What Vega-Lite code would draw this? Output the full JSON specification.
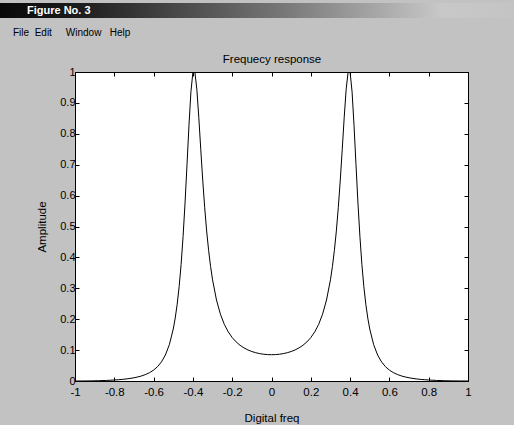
{
  "$schema": "https://vega.github.io/schema/vega-lite/v6.json",
  "background": "#c2c2c2",
  "padding": {"left": 0, "top": 3, "right": 0, "bottom": 0},
  "title": {"text": "Figure No. 3", "anchor": "start", "frame": "bounds", "offset": -13, "dx": 27, "color": "#ffffff", "fontSize": 11, "fontWeight": "bold"},
  "columns": 1,
  "spacing": 15,
  "config": {"font": "Liberation Sans", "view": {"stroke": null}},
  "concat": [
    {
      "width": 514,
      "height": 15,
      "view": {
        "fill": {"gradient": "linear", "x1": 0, "y1": 0, "x2": 1, "y2": 0,
          "stops": [{"offset": 0, "color": "#080808"}, {"offset": 0.15, "color": "#1c1c1c"}, {"offset": 0.55, "color": "#777777"}, {"offset": 0.86, "color": "#c8c8c8"}, {"offset": 1, "color": "#c4c4c4"}]},
        "stroke": null
      },
      "title": {"text": "File\u00a0\u00a0Edit\u00a0\u00a0\u00a0\u00a0\u00a0Window\u00a0\u00a0\u00a0Help", "orient": "bottom", "anchor": "start", "frame": "group", "dx": 13, "offset": 10, "fontSize": 10, "fontWeight": "normal", "color": "black"},
      "data": {"values": []},
      "mark": "text"
    },
    {
      "spacing": 10,
      "hconcat": [
        {
          "width": 26,
          "height": 309,
          "data": {"values": []},
          "mark": "text"
        },
        {
          "width": 393,
          "height": 309,
          "view": {"fill": "white", "stroke": "black"},
          "data": {"values": [
            {"f": -1.0, "a": 0.0},
            {"f": -0.96, "a": 0.0001},
            {"f": -0.92, "a": 0.0004},
            {"f": -0.88, "a": 0.001},
            {"f": -0.84, "a": 0.0018},
            {"f": -0.8, "a": 0.0032},
            {"f": -0.78, "a": 0.0041},
            {"f": -0.76, "a": 0.0052},
            {"f": -0.74, "a": 0.0065},
            {"f": -0.72, "a": 0.0083},
            {"f": -0.7, "a": 0.0104},
            {"f": -0.68, "a": 0.0131},
            {"f": -0.66, "a": 0.0166},
            {"f": -0.64, "a": 0.0212},
            {"f": -0.62, "a": 0.0272},
            {"f": -0.6, "a": 0.0353},
            {"f": -0.58, "a": 0.0463},
            {"f": -0.56, "a": 0.0618},
            {"f": -0.54, "a": 0.0841},
            {"f": -0.52, "a": 0.1173},
            {"f": -0.5, "a": 0.1681},
            {"f": -0.49, "a": 0.2036},
            {"f": -0.48, "a": 0.2485},
            {"f": -0.47, "a": 0.3054},
            {"f": -0.46, "a": 0.3773},
            {"f": -0.45, "a": 0.4672},
            {"f": -0.44, "a": 0.5759},
            {"f": -0.43, "a": 0.7001},
            {"f": -0.42, "a": 0.8277},
            {"f": -0.41, "a": 0.9362},
            {"f": -0.4, "a": 0.999},
            {"f": -0.39, "a": 1.0},
            {"f": -0.38, "a": 0.9443},
            {"f": -0.37, "a": 0.8533},
            {"f": -0.36, "a": 0.75},
            {"f": -0.35, "a": 0.6501},
            {"f": -0.34, "a": 0.5612},
            {"f": -0.33, "a": 0.4856},
            {"f": -0.32, "a": 0.4226},
            {"f": -0.31, "a": 0.3705},
            {"f": -0.3, "a": 0.3274},
            {"f": -0.28, "a": 0.2621},
            {"f": -0.26, "a": 0.2162},
            {"f": -0.24, "a": 0.1832},
            {"f": -0.22, "a": 0.1589},
            {"f": -0.2, "a": 0.1405},
            {"f": -0.18, "a": 0.1265},
            {"f": -0.16, "a": 0.1156},
            {"f": -0.14, "a": 0.1071},
            {"f": -0.12, "a": 0.1005},
            {"f": -0.1, "a": 0.0954},
            {"f": -0.08, "a": 0.0915},
            {"f": -0.06, "a": 0.0886},
            {"f": -0.04, "a": 0.0866},
            {"f": -0.02, "a": 0.0855},
            {"f": 0.0, "a": 0.0851},
            {"f": 0.02, "a": 0.0855},
            {"f": 0.04, "a": 0.0866},
            {"f": 0.06, "a": 0.0886},
            {"f": 0.08, "a": 0.0915},
            {"f": 0.1, "a": 0.0954},
            {"f": 0.12, "a": 0.1005},
            {"f": 0.14, "a": 0.1071},
            {"f": 0.16, "a": 0.1156},
            {"f": 0.18, "a": 0.1265},
            {"f": 0.2, "a": 0.1405},
            {"f": 0.22, "a": 0.1589},
            {"f": 0.24, "a": 0.1832},
            {"f": 0.26, "a": 0.2162},
            {"f": 0.28, "a": 0.2621},
            {"f": 0.3, "a": 0.3274},
            {"f": 0.31, "a": 0.3705},
            {"f": 0.32, "a": 0.4226},
            {"f": 0.33, "a": 0.4856},
            {"f": 0.34, "a": 0.5612},
            {"f": 0.35, "a": 0.6501},
            {"f": 0.36, "a": 0.75},
            {"f": 0.37, "a": 0.8533},
            {"f": 0.38, "a": 0.9443},
            {"f": 0.39, "a": 1.0},
            {"f": 0.4, "a": 0.999},
            {"f": 0.41, "a": 0.9362},
            {"f": 0.42, "a": 0.8277},
            {"f": 0.43, "a": 0.7001},
            {"f": 0.44, "a": 0.5759},
            {"f": 0.45, "a": 0.4672},
            {"f": 0.46, "a": 0.3773},
            {"f": 0.47, "a": 0.3054},
            {"f": 0.48, "a": 0.2485},
            {"f": 0.49, "a": 0.2036},
            {"f": 0.5, "a": 0.1681},
            {"f": 0.52, "a": 0.1173},
            {"f": 0.54, "a": 0.0841},
            {"f": 0.56, "a": 0.0618},
            {"f": 0.58, "a": 0.0463},
            {"f": 0.6, "a": 0.0353},
            {"f": 0.62, "a": 0.0272},
            {"f": 0.64, "a": 0.0212},
            {"f": 0.66, "a": 0.0166},
            {"f": 0.68, "a": 0.0131},
            {"f": 0.7, "a": 0.0104},
            {"f": 0.72, "a": 0.0083},
            {"f": 0.74, "a": 0.0065},
            {"f": 0.76, "a": 0.0052},
            {"f": 0.78, "a": 0.0041},
            {"f": 0.8, "a": 0.0032},
            {"f": 0.84, "a": 0.0018},
            {"f": 0.88, "a": 0.001},
            {"f": 0.92, "a": 0.0004},
            {"f": 0.96, "a": 0.0001},
            {"f": 1.0, "a": 0.0}
          ]},
          "layer": [
            {
              "mark": {"type": "line", "color": "black", "strokeWidth": 1, "clip": true},
              "encoding": {
                "x": {"field": "f", "type": "quantitative",
                  "scale": {"domain": [-1, 1], "nice": false, "zero": false},
                  "axis": {"orient": "bottom", "values": [-1, -0.8, -0.6, -0.4, -0.2, 0, 0.2, 0.4, 0.6, 0.8, 1],
                    "labelExpr": "'' + datum.value", "tickSize": -4, "tickColor": "black", "domainColor": "black",
                    "labelColor": "black", "labelFontSize": 11.5, "labelPadding": 9.5, "labelFlush": false, "labelOverlap": false,
                    "grid": false, "title": "Digital freq", "titleFontSize": 11.5, "titleFontWeight": "normal",
                    "titleColor": "black", "titlePadding": 14.5}},
                "y": {"field": "a", "type": "quantitative",
                  "scale": {"domain": [0, 1], "nice": false, "zero": false},
                  "axis": {"orient": "left", "values": [0, 0.1, 0.2, 0.3, 0.4, 0.5, 0.6, 0.7, 0.8, 0.9, 1],
                    "labelExpr": "'' + datum.value", "tickSize": -4, "tickColor": "black", "domainColor": "black",
                    "labelColor": "black", "labelFontSize": 11, "labelPadding": 4, "labelFlush": false, "labelOverlap": false,
                    "grid": false, "title": "Amplitude", "titleFontSize": 11.5, "titleFontWeight": "normal",
                    "titleColor": "black", "titlePadding": 12}}
              }
            },
            {
              "mark": {"type": "line", "opacity": 0},
              "encoding": {
                "x": {"field": "f", "type": "quantitative",
                  "scale": {"domain": [-1, 1], "nice": false, "zero": false},
                  "axis": {"orient": "top", "values": [-1, -0.8, -0.6, -0.4, -0.2, 0, 0.2, 0.4, 0.6, 0.8, 1],
                    "labels": false, "tickSize": -4, "tickColor": "black", "domainColor": "black", "grid": false,
                    "title": "Frequecy response", "titleFontSize": 11.5, "titleFontWeight": "normal",
                    "titleColor": "black", "titlePadding": 7}},
                "y": {"field": "a", "type": "quantitative",
                  "scale": {"domain": [0, 1], "nice": false, "zero": false},
                  "axis": {"orient": "right", "values": [0, 0.1, 0.2, 0.3, 0.4, 0.5, 0.6, 0.7, 0.8, 0.9, 1],
                    "labels": false, "tickSize": -4, "tickColor": "black", "domainColor": "black", "grid": false,
                    "title": null}}
              }
            }
          ],
          "resolve": {"scale": {"x": "independent", "y": "independent"}, "axis": {"x": "independent", "y": "independent"}}
        }
      ]
    }
  ]
}
